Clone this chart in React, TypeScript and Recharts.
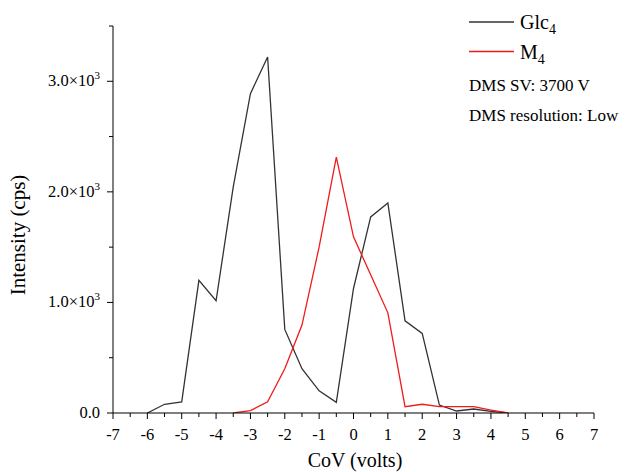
import React from 'react'
import { LineChart, Line, XAxis, YAxis } from 'recharts'

// CoV steps (volts)
const cov = [-6, -5.5, -5, -4.5, -4, -3.5, -3, -2.5, -2, -1.5, -1, -0.5, 0, 0.5, 1, 1.5, 2, 2.5, 3, 3.5, 4, 4.5]
const glc4 = [0, 79, 100, 1200, 1015, 2045, 2888, 3219, 756, 400, 201, 97, 1126, 1773, 1900, 834, 720, 72, 18, 36, 15, 0]
const m4 = [null, null, null, null, null, 0, 21, 102, 400, 795, 1502, 2315, 1593, 1250, 906, 57, 79, 57, 57, 57, 27, 0]

const xMajor = [-7, -6, -5, -4, -3, -2, -1, 0, 1, 2, 3, 4, 5, 6, 7]
const xMinor = [-6.5, -5.5, -4.5, -3.5, -2.5, -1.5, -0.5, 0.5, 1.5, 2.5, 3.5, 4.5, 5.5, 6.5]
const yMajor = [0, 1000, 2000, 3000]
const yMinor = [500, 1500, 2500, 3500]
const yMantissa = ['0.0', '1.0', '2.0', '3.0']

const seriesNames = ['Glc', 'M']
const seriesSub = ['4', '4']
const notes = ['DMS SV: 3700 V', 'DMS resolution: Low']

const data = cov.map((c, i) => ({ cov: c, glc4: glc4[i], m4: m4[i] }))

const FONT = '"Liberation Serif", "Times New Roman", serif'
const BLACK = '#333333'
const RED = '#f01b1b'

function XTick({ x, y, payload }: any) {
    const major = xMajor.includes(payload.value)
    return (
        <g>
            <line x1={x} y1={y} x2={x} y2={y + (major ? 6 : 4)} stroke="#000" strokeWidth={1} />
            {major && (
                <text x={x} y={y + 27} textAnchor="middle" fontSize={16.5} fontFamily={FONT} fill="#000">
                    {payload.value}
                </text>
            )}
        </g>
    )
}

function YTick({ x, y, payload }: any) {
    const idx = yMajor.indexOf(payload.value)
    const major = idx >= 0
    return (
        <g>
            <line x1={x - (major ? 6 : 4)} y1={y} x2={x} y2={y} stroke="#000" strokeWidth={1} />
            {major && (
                <text x={x - 13} y={y + 5} textAnchor="end" fontSize={16.5} fontFamily={FONT} fill="#000">
                    {yMantissa[idx]}
                    {payload.value !== 0 && '×10'}
                    {payload.value !== 0 && (
                        <tspan fontSize={11} dy={-7}>3</tspan>
                    )}
                </text>
            )}
        </g>
    )
}

export default function App() {
    return (
        <div style={{ position: 'absolute', left: 0, top: 0, width: 633, height: 472, background: '#fff' }}>
            <LineChart width={633} height={472} data={data} margin={{ top: 26, right: 39, bottom: 0, left: 0 }}>
                <XAxis
                    type="number"
                    dataKey="cov"
                    domain={[-7, 7]}
                    ticks={[...xMajor, ...xMinor].sort((a, b) => a - b)}
                    height={59}
                    tickSize={0}
                    tickMargin={0}
                    tickLine={false}
                    tick={<XTick />}
                    axisLine={{ stroke: '#000', strokeWidth: 1 }}
                    interval={0}
                />
                <YAxis
                    type="number"
                    domain={[0, 3500]}
                    ticks={[...yMajor, ...yMinor].sort((a, b) => a - b)}
                    width={113}
                    tickSize={0}
                    tickMargin={0}
                    tickLine={false}
                    tick={<YTick />}
                    axisLine={{ stroke: '#000', strokeWidth: 1 }}
                    interval={0}
                    allowDataOverflow
                />
                <Line dataKey="glc4" stroke={BLACK} strokeWidth={1.3} dot={false} isAnimationActive={false} type="linear" />
                <Line dataKey="m4" stroke={RED} strokeWidth={1.3} dot={false} isAnimationActive={false} type="linear" />
            </LineChart>

            {/* titles, legend and notes */}
            <svg width={633} height={472} style={{ position: 'absolute', left: 0, top: 0, pointerEvents: 'none' }}>
                <text x={355} y={467} textAnchor="middle" fontSize={20} fontFamily={FONT} fill="#000">
                    CoV (volts)
                </text>
                <text
                    transform="translate(25 235) rotate(-90)"
                    textAnchor="middle"
                    fontSize={21}
                    fontFamily={FONT}
                    fill="#000"
                >
                    Intensity (cps)
                </text>

                {[BLACK, RED].map((c, i) => (
                    <g key={i}>
                        <line x1={469} x2={514} y1={22 + i * 29.5} y2={22 + i * 29.5} stroke={c} strokeWidth={1.3} />
                        <text x={520} y={29 + i * 29.5} fontSize={20} fontFamily={FONT} fill="#000">
                            {seriesNames[i]}
                            <tspan fontSize={14} dy={5}>{seriesSub[i]}</tspan>
                        </text>
                    </g>
                ))}

                {notes.map((n, i) => (
                    <text key={i} x={469} y={91 + i * 30} fontSize={17} fontFamily={FONT} fill="#000">
                        {n}
                    </text>
                ))}
            </svg>
        </div>
    )
}
